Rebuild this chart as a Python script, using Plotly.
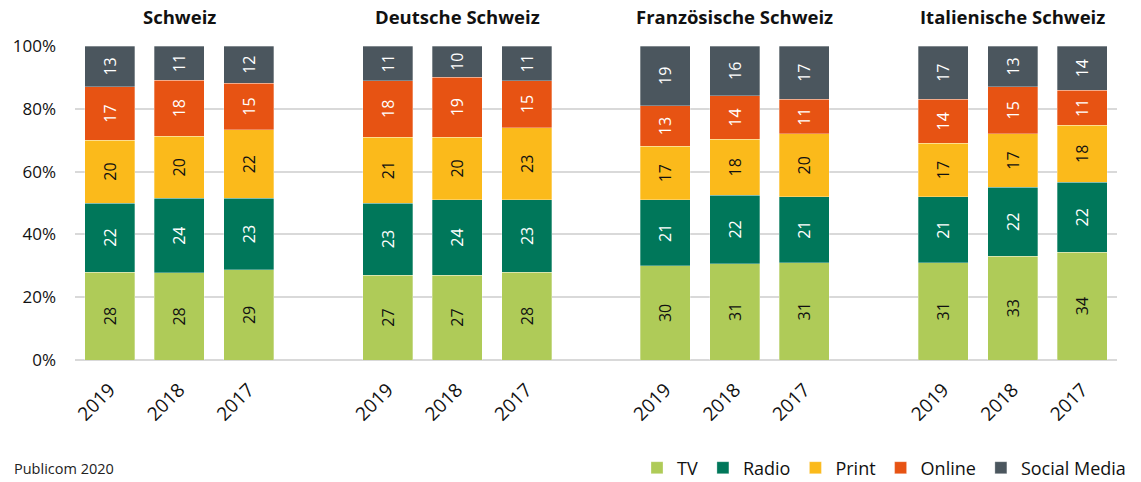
import plotly.graph_objects as go

regions = ["Schweiz", "Deutsche Schweiz", "Französische Schweiz", "Italienische Schweiz"]
years = ["2019", "2018", "2017"]

series_names = ["TV", "Radio", "Print", "Online", "Social Media"]
colors = ["#AFCB58", "#00775A", "#FBBA1B", "#E75313", "#4B565E"]
text_colors = ["#111111", "#FFFFFF", "#111111", "#FFFFFF", "#FFFFFF"]

# values per region, per year (2019, 2018, 2017)
tv = [[28, 28, 29], [27, 27, 28], [30, 31, 31], [31, 33, 34]]
radio = [[22, 24, 23], [23, 24, 23], [21, 22, 21], [21, 22, 22]]
printv = [[20, 20, 22], [21, 20, 23], [17, 18, 20], [17, 17, 18]]
online = [[17, 18, 15], [18, 19, 15], [13, 14, 11], [14, 15, 11]]
social = [[13, 11, 12], [11, 10, 11], [19, 16, 17], [17, 13, 14]]
series_values = [tv, radio, printv, online, social]

y_ticks = [0, 20, 40, 60, 80, 100]
y_ticktext = ["0%", "20%", "40%", "60%", "80%", "100%"]

FONT = "Open Sans"
slots_per_group = len(years) + 1

xpos = []
ticktext = []
for g in range(len(regions)):
    for i, y in enumerate(years):
        xpos.append(g * slots_per_group + i)
        ticktext.append(y)

fig = go.Figure()
for name, col, tcol, vals in zip(series_names, colors, text_colors, series_values):
    flat = [v for grp in vals for v in grp]
    fig.add_trace(go.Bar(
        x=xpos, y=flat, name=name,
        marker=dict(color=col, line=dict(width=0.6, color="rgba(255,255,255,0.5)")),
        text=[str(v) for v in flat], textposition="inside", textangle=-90,
        insidetextanchor="middle",
        textfont=dict(color=tcol, size=16, family=FONT),
        width=0.72, hoverinfo="name+y",
    ))

for g, r in enumerate(regions):
    fig.add_annotation(
        x=g * slots_per_group + (len(years) - 1) / 2, y=1.0, xref="x", yref="paper",
        yshift=15, yanchor="bottom", showarrow=False, text="<b>%s</b>" % r,
        font=dict(size=18.5, family=FONT, color="#111111"),
    )

fig.add_annotation(
    x=-0.06, xref="paper", y=-0.344, yref="paper", xanchor="left", yanchor="middle",
    text="Publicom 2020", showarrow=False, font=dict(size=14.5, family=FONT, color="#222222"),
)

fig.update_layout(
    barmode="stack", barnorm="percent",
    width=1141, height=482,
    margin=dict(l=75, r=24, t=46, b=122, autoexpand=False),
    paper_bgcolor="white", plot_bgcolor="white",
    font=dict(family=FONT, color="#111111"),
    xaxis=dict(
        range=[-0.5, 14.5], tickvals=xpos, ticktext=ticktext, tickangle=-45,
        tickfont=dict(size=19, family=FONT), showgrid=False, zeroline=False,
        showline=False, ticks="", ticklabelstandoff=14,
    ),
    yaxis=dict(
        range=[0, 100], tickvals=y_ticks, ticktext=y_ticktext,
        tickfont=dict(size=17, family=FONT), showgrid=True, gridcolor="#D9D9D9",
        gridwidth=1.5, zeroline=True, zerolinecolor="#D9D9D9", zerolinewidth=2,
        ticks="", ticklabelstandoff=18,
    ),
    legend=dict(
        orientation="h", x=(1141 - 10) / 1141, xanchor="right", xref="container",
        y=(482 - 468) / 482, yanchor="middle", yref="container",
        font=dict(size=18, family=FONT), traceorder="normal",
        bgcolor="rgba(0,0,0,0)", itemwidth=30,
    ),
    showlegend=True,
)

fig.write_html("out.html", config={"displayModeBar": False},
               post_script="document.body.style.margin='0';")
